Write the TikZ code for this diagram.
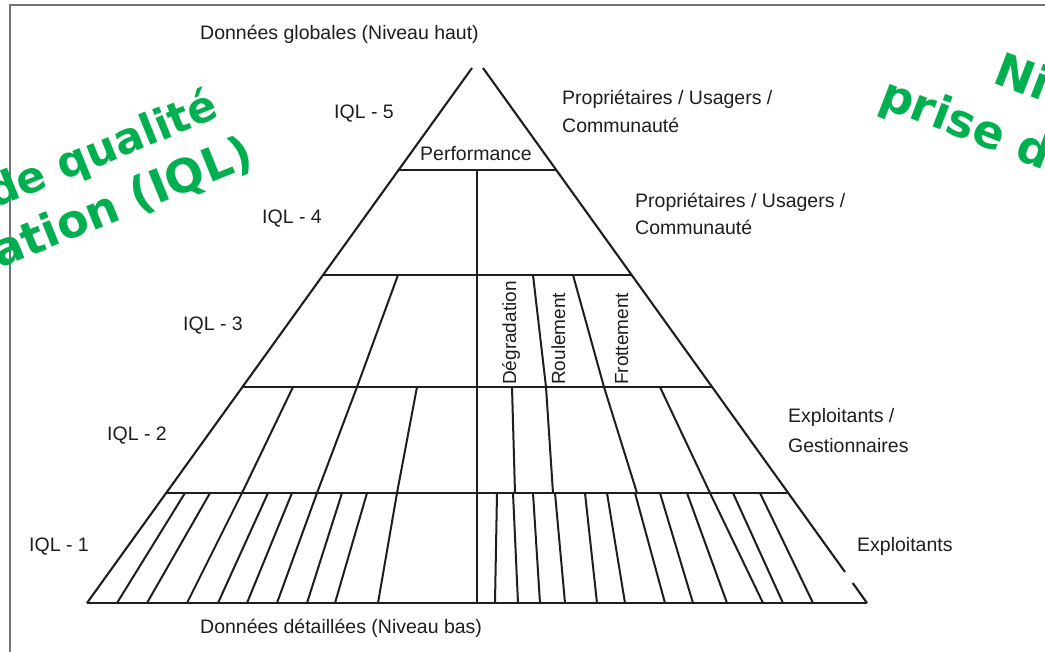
\documentclass[tikz,border=0pt]{standalone}
\usepackage{fontspec}
\setmainfont{Liberation Sans}
\newfontfamily\wmfont{DejaVu Sans}
\definecolor{ink}{HTML}{1E1E1E}
\definecolor{wmgreen}{HTML}{00B050}
\definecolor{framegray}{HTML}{6F737A}
\begin{document}
\begin{tikzpicture}[x=1pt,y=-1pt,
  edge/.style={draw=ink,line width=2.1pt},
  tier/.style={draw=ink,line width=2.5pt},
  split/.style={draw=ink,line width=2pt},
  lbl/.style={text=ink,font=\fontsize{19.5}{24}\selectfont,inner sep=0pt,anchor=base west},
  vlbl/.style={text=ink,font=\fontsize{19}{20}\selectfont,inner sep=0pt,rotate=90,anchor=base west},
  wm/.style={text=wmgreen,font=\wmfont\bfseries\fontsize{46}{52}\selectfont,inner sep=0pt}]
\useasboundingbox (0,0) rectangle (1045,652);
\clip (0,0) rectangle (1045,652);
\fill[white] (0,0) rectangle (1045,652);

% outer frame
\draw[framegray,line width=2pt] (10,656) -- (10,5) -- (1050,5);

% pyramid outline (open apex, small break on the right side)
\coordinate (apexL) at (472,68);
\coordinate (apexR) at (483,68);
\coordinate (baseL) at (87,603);
\coordinate (baseR) at (867,603);
\draw[edge] (apexL) -- (baseL);
\draw[edge] (apexR) -- (845,572);
\draw[edge] (852.7,583) -- (baseR);

% tier boundaries
\draw[tier] (398.6,170) -- (556.2,170);
\draw[tier] (323,275) -- (631.6,275);
\draw[tier] (242.4,387) -- (712,387);
\draw[tier] (166.2,493) -- (788,493);
\draw[tier] (baseL) -- (baseR);

% central divider
\draw[split] (477,170) -- (477,603);

% IQL-3 subdivisions
\foreach \a/\b in {398/357, 533/546, 573/604}
  \draw[split] (\a,275) -- (\b,387);
% IQL-2 subdivisions
\foreach \a/\b in {293/242, 357/317, 417/397, 512/515, 546/553, 604/637, 660/710}
  \draw[split] (\a,387) -- (\b,493);
% IQL-1 subdivisions
\foreach \a/\b in {185/117, 210/147, 242/187, 268/218, 292/247, 317/277, 342/307, 367/335, 397/378,
                   497/495, 513/518, 533/540, 555/565, 585/597, 607/625, 635/665, 660/693, 687/727,
                   710/763, 733/783, 760/813}
  \draw[split] (\a,493) -- (\b,603);

% labels
\node[lbl] (top) at (200,40) {Données globales (Niveau haut)};
\node[lbl] (bottom) at (200,633) {Données détaillées (Niveau bas)};
\node[lbl] (q5) at (334,119) {IQL - 5};
\node[lbl] (q4) at (262,224) {IQL - 4};
\node[lbl] (q3) at (183,331) {IQL - 3};
\node[lbl] (q2) at (107,440) {IQL - 2};
\node[lbl] (q1) at (29,551) {IQL - 1};
\node[lbl] (perf) at (420,161) {Performance};
\node[lbl] (own1a) at (562,105) {Propriétaires / Usagers /};
\node[lbl] (own1b) at (562,133) {Communauté};
\node[lbl] (own2a) at (635,208) {Propriétaires / Usagers /};
\node[lbl] (own2b) at (635,235) {Communauté};
\node[lbl] (opa) at (788,423) {Exploitants /};
\node[lbl] (opb) at (788,453) {Gestionnaires};
\node[lbl] (op) at (857,551) {Exploitants};
\node[vlbl] (deg) at (516,385) {Dégradation};
\node[vlbl] (roul) at (565,385) {Roulement};
\node[vlbl] (frot) at (628,385) {Frottement};

% green overlay titles
\node[wm,font=\wmfont\bfseries\fontsize{43}{52}\selectfont,rotate=22,anchor=base east] (wl1) at (221,117) {de qualité};
\node[wm,rotate=22,anchor=base east] (wl2) at (256,165) {ation (IQL)};
\node[wm,rotate=-21,anchor=base west] (wr1) at (991,82) {Ni};
\node[wm,rotate=-21,anchor=base west] (wr2) at (877,106) {prise d};
\end{tikzpicture}
\end{document}
